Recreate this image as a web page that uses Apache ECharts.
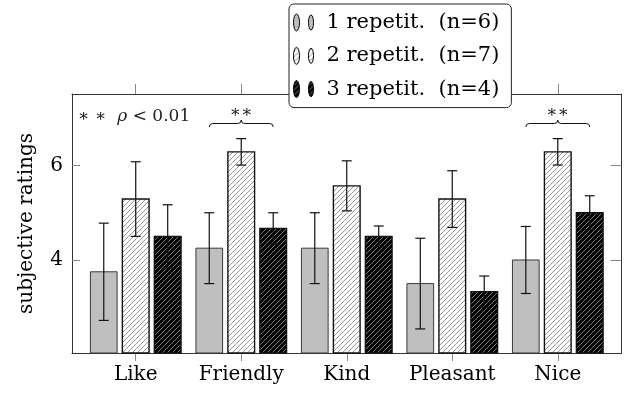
<!DOCTYPE html>
<html>
<head>
<meta charset="utf-8">
<script src="https://cdn.jsdelivr.net/npm/echarts@6/dist/echarts.min.js"></script>
<style>
  html, body { margin: 0; padding: 0; background: #fff; }
  #chart { width: 626px; height: 396px; }
</style>
</head>
<body>
<div id="chart"></div>
<script>
// data
const categories = ['Like', 'Friendly', 'Kind', 'Pleasant', 'Nice'];
const seriesNames = ['1 repetit.  (n=6)', '2 repetit.  (n=7)', '3 repetit.  (n=4)'];
const rep1Mean = [3.75, 4.25, 4.25, 3.50, 4.00];
const rep1Err  = [1.03, 0.75, 0.75, 0.96, 0.71];
const rep2Mean = [5.29, 6.29, 5.57, 5.29, 6.29];
const rep2Err  = [0.79, 0.28, 0.53, 0.60, 0.28];
const rep3Mean = [4.50, 4.67, 4.50, 3.33, 5.00];
const rep3Err  = [0.67, 0.33, 0.22, 0.33, 0.36];
const yTicks = [4, 6];
const sigCategories = [1, 4];   // ** over Friendly and Nice
const braceLevel = 6.89;
const starLevel = 7.12;

const Y_MIN = 2.03, Y_MAX = 7.515;
const X_MIN = -0.604, X_MAX = 4.604;
const BAR_W = 0.253, BAR_STEP = 0.303;
const FONT = 'DejaVu Serif';

function hatch(bg, fg) {
  let c = document.createElement('canvas');
  c.width = 5; c.height = 5;
  let ctx = c.getContext('2d');
  ctx.fillStyle = bg;
  ctx.fillRect(0, 0, 5, 5);
  ctx.strokeStyle = fg;
  ctx.lineWidth = 0.9;
  ctx.beginPath();
  ctx.moveTo(-1, 6); ctx.lineTo(6, -1);
  ctx.moveTo(-1, 1); ctx.lineTo(1, -1);
  ctx.moveTo(4, 6); ctx.lineTo(6, 4);
  ctx.stroke();
  return { image: c, repeat: 'repeat' };
}

const fills = ['#bfbfbf', hatch('#ffffff', '#8a8a8a'), hatch('#000000', '#8a8a8a')];
const borders = ['#3a3a3a', '#111', '#111'];
const means = [rep1Mean, rep2Mean, rep3Mean];
const errs = [rep1Err, rep2Err, rep3Err];

function barRenderer(k) {
  return function (params, api) {
    let x = api.value(0) + (k - 1) * BAR_STEP;
    let m = api.value(1), e = api.value(2);
    let tl = api.coord([x - BAR_W / 2, m]);
    let br = api.coord([x + BAR_W / 2, Y_MIN]);
    let top = api.coord([x, m + e]);
    let bot = api.coord([x, m - e]);
    let cap = 5;
    let ls = { stroke: '#111', lineWidth: 1.2 };
    return {
      type: 'group',
      children: [
        { type: 'rect', shape: { x: tl[0], y: tl[1], width: br[0] - tl[0], height: br[1] - tl[1] },
          style: { fill: fills[k], stroke: borders[k], lineWidth: k === 0 ? 1 : 1.4 } },
        { type: 'line', shape: { x1: top[0], y1: top[1], x2: bot[0], y2: bot[1] }, style: ls },
        { type: 'line', shape: { x1: top[0] - cap, y1: top[1], x2: top[0] + cap, y2: top[1] }, style: ls },
        { type: 'line', shape: { x1: bot[0] - cap, y1: bot[1], x2: bot[0] + cap, y2: bot[1] }, style: ls }
      ]
    };
  };
}

function braceRenderer(params, api) {
  let c = api.value(0);
  let l = api.coord([c - BAR_STEP, api.value(1)]);
  let r = api.coord([c + BAR_STEP, api.value(1)]);
  let s = api.coord([c, api.value(2)]);
  let y = l[1], xm = (l[0] + r[0]) / 2, d = 3.5;
  let st = { stroke: '#111', lineWidth: 1, fill: null };
  return {
    type: 'group',
    children: [
      { type: 'bezierCurve', shape: { x1: l[0], y1: y + d, cpx1: l[0], cpy1: y, x2: l[0] + d, y2: y }, style: st },
      { type: 'line', shape: { x1: l[0] + d, y1: y, x2: xm - d, y2: y }, style: st },
      { type: 'bezierCurve', shape: { x1: xm - d, y1: y, cpx1: xm, cpy1: y, x2: xm, y2: y - d }, style: st },
      { type: 'bezierCurve', shape: { x1: xm, y1: y - d, cpx1: xm, cpy1: y, x2: xm + d, y2: y }, style: st },
      { type: 'line', shape: { x1: xm + d, y1: y, x2: r[0] - d, y2: y }, style: st },
      { type: 'bezierCurve', shape: { x1: r[0] - d, y1: y, cpx1: r[0], cpy1: y, x2: r[0], y2: y + d }, style: st },
      { type: 'text', x: s[0], y: s[1],
        style: { text: '∗∗', align: 'center', verticalAlign: 'middle', font: '17px ' + FONT, fill: '#222' } }
    ]
  };
}

let series = seriesNames.map(function (name, k) {
  return {
    name: name,
    type: 'custom',
    xAxisIndex: 0,
    yAxisIndex: 0,
    itemStyle: { color: fills[k], borderColor: '#000', borderWidth: 1 },
    encode: { x: 0, y: 1 },
    renderItem: barRenderer(k),
    data: categories.map(function (c, i) { return [i, means[k][i], errs[k][i]]; }),
    z: 2
  };
});
series.push({
  type: 'custom',
  xAxisIndex: 0,
  yAxisIndex: 0,
  encode: { x: 0, y: 1 },
  renderItem: braceRenderer,
  clip: false,
  data: sigCategories.map(function (i) { return [i, braceLevel, starLevel]; }),
  z: 3
});

const catIdx = categories.map(function (c, i) { return i; });
const frameLine = { show: true, onZero: false, lineStyle: { color: '#333', width: 1 } };
const tickStyle = { color: '#888', width: 1 };

let option = {
  animation: false,
  backgroundColor: '#fff',
  grid: { left: 72, right: 4.5, top: 94, bottom: 43 },
  legend: {
    data: seriesNames,
    orient: 'vertical',
    left: 289,
    top: 4,
    backgroundColor: '#fff',
    borderColor: '#222',
    borderWidth: 1,
    borderRadius: 5,
    padding: [8, 12, 8, 4],
    itemWidth: 20,
    itemHeight: 17,
    itemGap: 12.3,
    icon: 'path://M0,8.5 A3,8.5 0 1,0 6,8.5 A3,8.5 0 1,0 0,8.5 Z M15,8.5 A2.5,7.5 0 1,0 20,8.5 A2.5,7.5 0 1,0 15,8.5 Z',
    itemStyle: { borderColor: '#000', borderWidth: 1 },
    textStyle: { fontFamily: FONT, fontSize: 21, color: '#000', padding: [0, 0, 0, 8] },
    selectedMode: false,
    z: 10
  },
  graphic: [{
    type: 'text',
    left: 78,
    top: 108,
    style: {
      text: '{a|∗ ∗}  {i|ρ} < 0.01',
      font: '17px ' + FONT,
      fill: '#222',
      rich: {
        a: { fontFamily: FONT, fontSize: 17, fill: '#222' },
        i: { fontFamily: FONT, fontSize: 17, fontStyle: 'italic', fill: '#222' }
      }
    }
  }],
  xAxis: [{
    type: 'value', min: X_MIN, max: X_MAX, position: 'bottom',
    axisLine: frameLine,
    axisTick: { show: true, customValues: catIdx, inside: false, length: 8, lineStyle: tickStyle },
    axisLabel: {
      customValues: catIdx, margin: 12, color: '#000', fontFamily: FONT, fontSize: 20,
      formatter: function (v) { return categories[Math.round(v)]; }
    },
    splitLine: { show: false }
  }, {
    type: 'value', min: X_MIN, max: X_MAX, position: 'top',
    axisLine: frameLine,
    axisTick: { show: true, customValues: catIdx, inside: false, length: 10, lineStyle: tickStyle },
    axisLabel: { show: false },
    splitLine: { show: false }
  }],
  yAxis: [{
    type: 'value', min: Y_MIN, max: Y_MAX, position: 'left',
    name: 'subjective ratings', nameLocation: 'middle', nameRotate: 90, nameGap: 35,
    nameTextStyle: { fontFamily: FONT, fontSize: 20, color: '#000' },
    axisLine: frameLine,
    axisTick: { show: true, customValues: yTicks, inside: true, length: 8, lineStyle: tickStyle },
    axisLabel: { customValues: yTicks, margin: 9, color: '#000', fontFamily: FONT, fontSize: 20 },
    splitLine: { show: false }
  }, {
    type: 'value', min: Y_MIN, max: Y_MAX, position: 'right',
    axisLine: frameLine,
    axisTick: { show: true, customValues: yTicks, inside: true, length: 11, lineStyle: tickStyle },
    axisLabel: { show: false },
    splitLine: { show: false }
  }],
  series: series
};

let myChart = echarts.init(document.getElementById('chart'));
myChart.setOption(option);
</script>
</body>
</html>
